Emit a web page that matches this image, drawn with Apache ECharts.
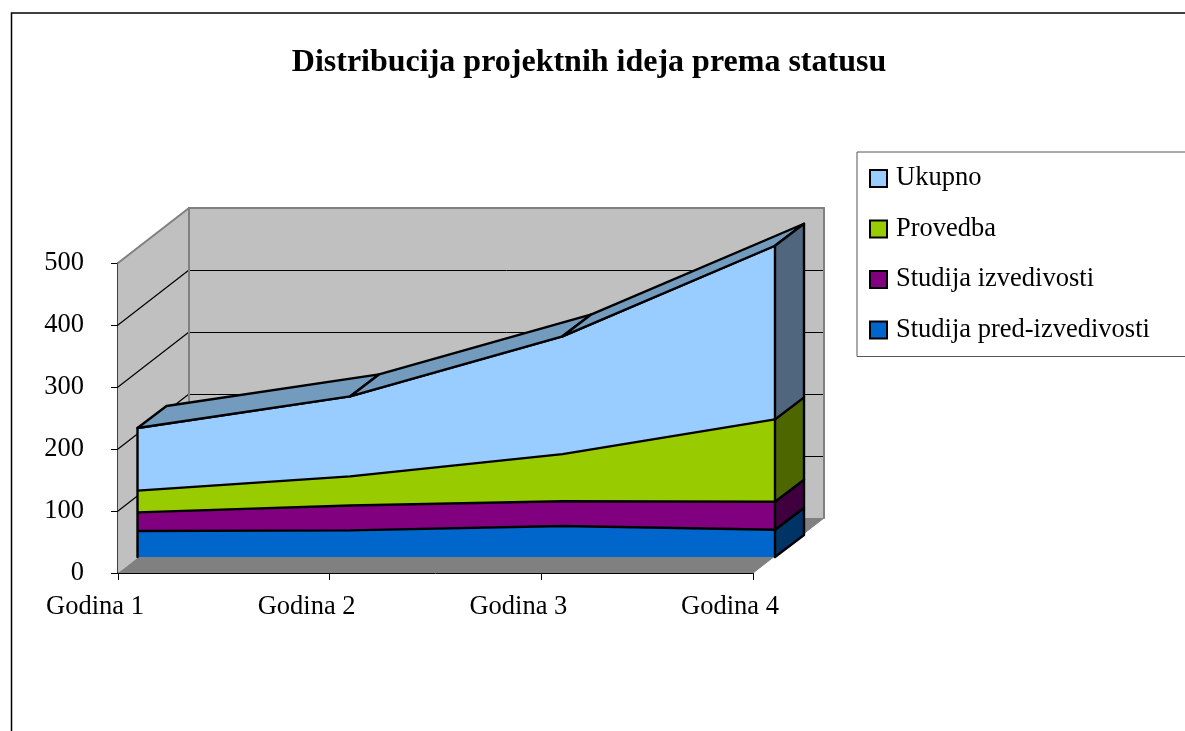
<!DOCTYPE html>
<html><head><meta charset="utf-8">
<style>html,body{margin:0;padding:0;background:#fff;overflow:hidden}#c{width:1185px;height:731px}</style>
<script src="https://cdn.jsdelivr.net/npm/echarts@6/dist/echarts.min.js"></script>
</head><body><div id="c"></div>
<script>
const titleText = 'Distribucija projektnih ideja prema statusu';
const categories = ['Godina 1','Godina 2','Godina 3','Godina 4'];
const yTicks = [0,100,200,300,400,500];
const predIzvedivost = [42,43,50,44];
const izvedivost = [30,40,40,45];
const provedba = [35,47,76,133];
const ukupno = [101,129,190,280];
const seriesNames = ['Studija pred-izvedivosti','Studija izvedivosti','Provedba','Ukupno'];
const seriesValues = [predIzvedivost,izvedivost,provedba,ukupno];
const frontColors = ['#0066cc','#800080','#99cc00','#99ccff'];
const sideColors = ['#003366','#400040','#4d6600','#50667f'];
const topColor = '#729bbe';
const FONT = '"Liberation Serif"';
const FS = 26.5;
const WALL = [71,-55];
const DEPTH = [29,-22];

const cum = [];
seriesValues.forEach((s,k)=>cum.push(s.map((v,i)=>v+(k?cum[k-1][i]:0))));

function poly(points,fill,stroke,w){
  return {type:'polygon',shape:{points},style:{fill,stroke:stroke||null,lineWidth:w||0,lineJoin:'round'},silent:true};
}
function seg(a,b,stroke,w){
  return {type:'line',shape:{x1:a[0],y1:a[1],x2:b[0],y2:b[1]},style:{stroke,lineWidth:w,lineCap:'round'},silent:true};
}
const off=(p,d)=>[p[0]+d[0],p[1]+d[1]];
const snap=p=>[p[0],Math.round(p[1])+0.5];

function renderWalls(params,api){
  const last=categories.length-1, top=yTicks[yTicks.length-1];
  const o=api.coord([0,0]), t=api.coord([0,top]), r=api.coord([last,0]);
  const kids=[];
  const rt=[r[0],t[1]];
  kids.push(poly([off(o,WALL),off(r,WALL),off(rt,WALL),off(t,WALL)],'#c0c0c0'));
  kids.push(poly([o,t,off(t,WALL),off(o,WALL)],'#c0c0c0'));
  kids.push(poly([o,r,off(r,WALL),off(o,WALL)],'#808080'));
  yTicks.slice(1,-1).forEach(v=>{
    const a=api.coord([0,v]), b=api.coord([last,v]);
    kids.push(seg(a,off(a,WALL),'#000',1.2));
    kids.push(seg(snap(off(a,WALL)),snap(off(b,WALL)),'#000',1));
  });
  kids.push(seg(off(t,WALL),t,'#808080',2));
  kids.push(seg(off(t,WALL),off(rt,WALL),'#808080',2));
  kids.push(seg(off(t,WALL),off(o,WALL),'#808080',2));
  kids.push(seg(off(rt,WALL),off(r,WALL),'#808080',2));
  kids.push(seg(off(r,WALL),r,'#808080',1));
  return {type:'group',children:kids};
}
function renderDepth(params,api){
  const last=categories.length-1, kids=[];
  const tot=cum[cum.length-1];
  for(let i=0;i<last;i++){
    const a=api.coord([i,tot[i]]), b=api.coord([i+1,tot[i+1]]);
    kids.push(poly([a,b,off(b,DEPTH),off(a,DEPTH)],topColor,'#000',2.4));
  }
  cum.forEach((c,k)=>{
    const hi=api.coord([last,c[last]]), lo=api.coord([last,k?cum[k-1][last]:0]);
    kids.push(poly([lo,hi,off(hi,DEPTH),off(lo,DEPTH)],sideColors[k],'#000',2.4));
  });
  kids.push(seg(api.coord([0,0]),api.coord([0,tot[0]]),'#000',2.4));
  return {type:'group',children:kids};
}

const lineSeries = seriesNames.map((name,k)=>({
  name,type:'line',stack:'total',xAxisIndex:1,yAxisIndex:1,data:seriesValues[k],
  showSymbol:false,symbol:'none',clip:false,z:3,animation:false,silent:true,
  lineStyle:{color:'#000',width:2.4},
  itemStyle:{color:frontColors[k]},
  areaStyle:{color:frontColors[k],opacity:1}
}));

const chart = echarts.init(document.getElementById('c'),null,{renderer:'canvas'});
chart.setOption({
  animation:false,
  backgroundColor:'#fff',
  title:{text:titleText,left:584,top:42,textAlign:'center',
    textStyle:{fontFamily:FONT,fontWeight:'bold',fontSize:32,color:'#000'}},
  legend:{
    orient:'vertical',left:857,top:152,
    padding:[13,80,13,12],itemWidth:17,itemHeight:17,itemGap:23.5,
    backgroundColor:'#fff',borderColor:'#555',borderWidth:1,borderRadius:0,
    icon:'rect',selectedMode:false,
    textStyle:{fontFamily:FONT,fontSize:FS,color:'#000',padding:[0,0,4,4]},
    data:seriesNames.slice().reverse().map(n=>{
      const k=seriesNames.indexOf(n);
      return {name:n,icon:'rect',itemStyle:{color:frontColors[k],borderColor:'#000',borderWidth:2}};
    })
  },
  grid:[
    {left:118,top:263,width:635,height:310},
    {left:137.5,top:247,width:637.5,height:310}
  ],
  xAxis:[
    {type:'category',gridIndex:0,data:categories,boundaryGap:false,
      axisLine:{lineStyle:{color:'#000',width:1}},
      axisTick:{length:7,lineStyle:{color:'#000'}},
      axisLabel:{interval:0,margin:21,fontFamily:FONT,fontSize:FS,color:'#000',padding:[0,46,0,0]}},
    {type:'category',gridIndex:1,data:categories,boundaryGap:false,show:false}
  ],
  yAxis:[
    {type:'value',gridIndex:0,min:0,max:500,interval:100,
      axisLine:{show:true,lineStyle:{color:'#000',width:1.5}},
      axisTick:{show:true,length:7,lineStyle:{color:'#000'}},
      splitLine:{show:false},
      axisLabel:{margin:34,fontFamily:FONT,fontSize:FS,color:'#000',padding:[0,0,10,0]}},
    {type:'value',gridIndex:1,min:0,max:500,interval:100,show:false,splitLine:{show:false}}
  ],
  graphic:[{type:'rect',z:-10,silent:true,shape:{x:11.5,y:13,width:1400,height:1000},
    style:{fill:'#fff',stroke:'#000',lineWidth:1.5}}],
  series:[
    {type:'custom',name:'walls',xAxisIndex:0,yAxisIndex:0,z:1,silent:true,clip:false,data:[[0,0]],renderItem:renderWalls},
    ...lineSeries,
    {type:'custom',name:'depth',xAxisIndex:1,yAxisIndex:1,z:4,silent:true,clip:false,data:[[0,0]],renderItem:renderDepth}
  ]
});
</script></body></html>
